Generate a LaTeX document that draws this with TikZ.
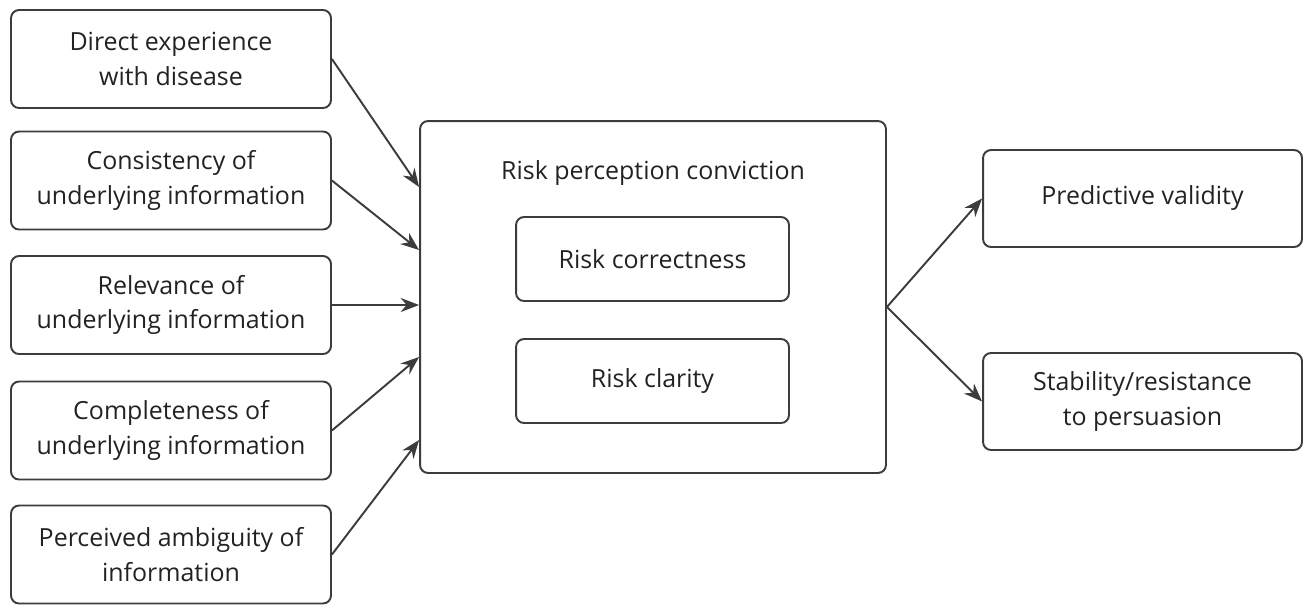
\documentclass[tikz,border=0pt]{standalone}
\usepackage{fontspec}
\setmainfont{Open Sans}
\usetikzlibrary{positioning, arrows.meta}

\definecolor{linegray}{HTML}{3C3C3C}
\definecolor{textgray}{HTML}{222222}

\tikzset{
    factor/.style={draw=linegray, line width=1.1pt, rounded corners=0.16cm,
        minimum width=6.4cm, minimum height=1.96cm, align=center,
        text=textgray, font=\fontsize{14.2}{19.5}\selectfont},
    inner/.style={factor, minimum width=5.46cm, minimum height=1.68cm},
    outcome/.style={factor, minimum width=6.38cm, minimum height=1.94cm},
    link/.style={draw=linegray, line width=1.1pt, -{Stealth[length=10.5pt,width=8pt]}}
}

\begin{document}
\begin{tikzpicture}[x=0.02cm, y=-0.02cm]
                \useasboundingbox (0,0) rectangle (1311,606);
                % antecedents
                \node[factor] (b1) at (171,59) {Direct experience\\with disease};
                \node[factor] (b2) at (171,180.5) {Consistency of\\underlying information};
                \node[factor] (b3) at (171,305) {Relevance of\\underlying information};
                \node[factor] (b4) at (171,430.5) {Completeness of\\underlying information};
                \node[factor] (b5) at (171,554.5) {Perceived ambiguity of\\information};
                % conviction
                \node[factor, minimum width=9.32cm, minimum height=7.04cm] (conv) at (653,297) {};
                \node[text=textgray, font=\fontsize{14.2}{19.5}\selectfont] (title) at (653,173) {Risk perception conviction};
                \node[inner] (corr) at (652.5,259) {Risk correctness};
                \node[inner] (clar) at (652.5,381) {Risk clarity};
                % consequences
                \node[outcome] (pred) at (1142.5,198.5) {Predictive validity};
                \node[outcome] (stab) at (1142.5,401.5) {Stability/resistance\\to persuasion};
                \draw[link] (b1.east) -- ([yshift=2.2cm]conv.west);
                \draw[link] (b2.east) -- ([yshift=0.94cm]conv.west);
                \draw[link] (b3.east) -- (b3.east -| conv.west);
                \draw[link] (b4.east) -- ([yshift=-1.2cm]conv.west);
                \draw[link] (b5.east) -- ([yshift=-2.86cm]conv.west);
                \draw[link] ([yshift=-0.2cm]conv.east) -- (pred.west);
                \draw[link] ([yshift=-0.2cm]conv.east) -- (stab.west);
\end{tikzpicture}
\end{document}
